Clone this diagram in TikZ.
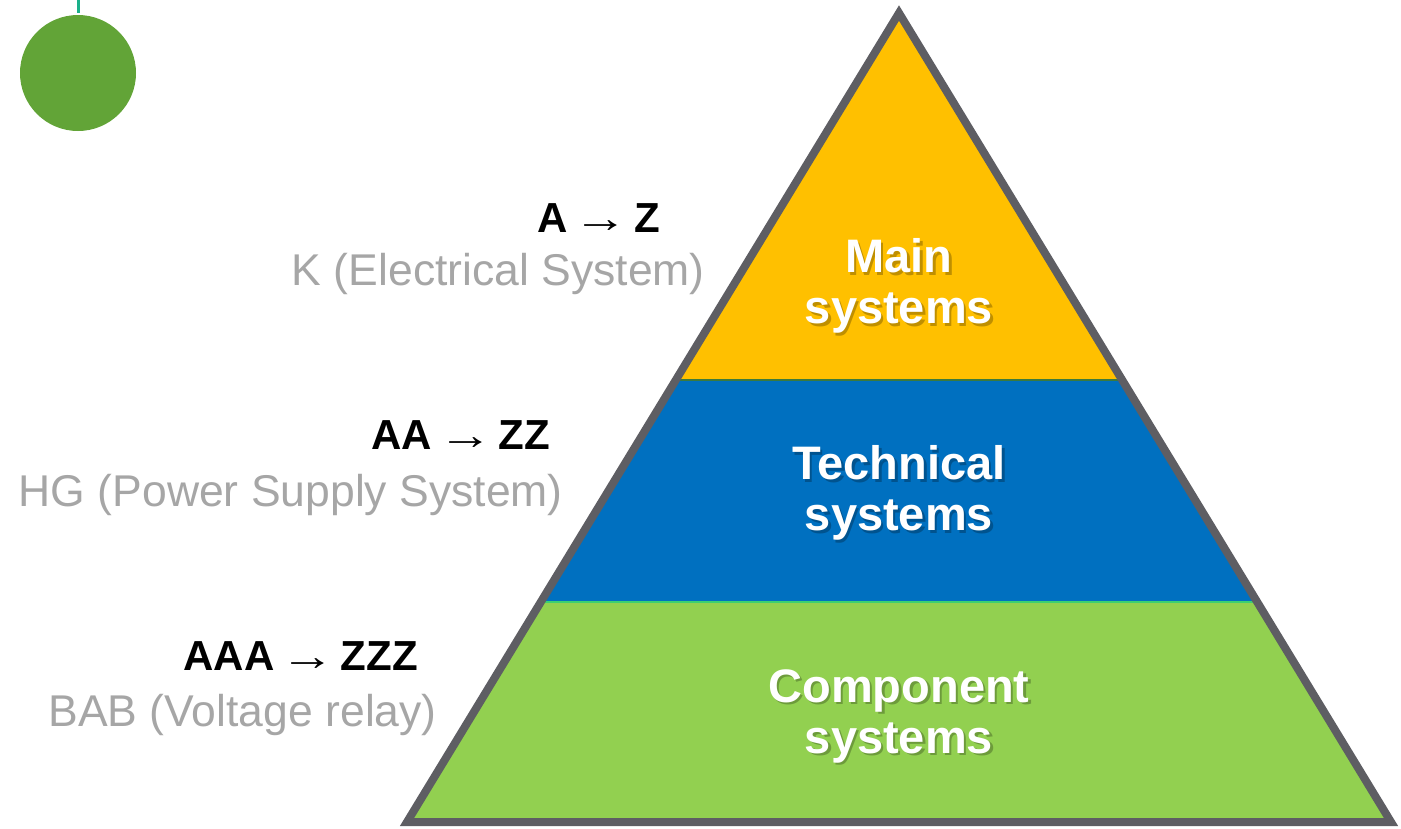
\documentclass[tikz,border=0pt]{standalone}
\usepackage{fontspec}
\setmainfont{Liberation Sans}
\usepackage{xcolor}
\usepackage{graphicx}

\definecolor{mainyellow}{HTML}{FFC000}
\definecolor{techblue}{HTML}{0070C0}
\definecolor{compgreen}{HTML}{92D050}
\definecolor{edgegray}{HTML}{5E5E63}
\definecolor{dotgreen}{HTML}{62A437}
\definecolor{stemteal}{HTML}{1AB08A}
\definecolor{labelgray}{HTML}{A6A6A6}
\definecolor{seamdark}{HTML}{3C7A3C}
\definecolor{seamlight}{HTML}{3CD070}

% thin arrow between the codes
\newcommand{\codearrow}{\kern-0.14em\scalebox{1.3}[1]{\mdseries →}\kern-0.14em}

\tikzset{
	greendot/.style={circle, fill=dotgreen, minimum size=116pt, inner sep=0pt},
	dotstem/.style={draw=stemteal, line width=3pt},
	seam/.style={line width=1.2pt},
	pyramidedge/.style={draw=edgegray, line width=8pt},
	levelname/.style={text=white, align=center, inner sep=0pt,
		font=\fontsize{47}{51}\selectfont\bfseries},
	levelshadow/.style={levelname, text=black, opacity=0.25},
	codelabel/.style={anchor=base east, inner sep=0pt,
		font=\fontsize{42}{48}\selectfont\bfseries},
	desclabel/.style={anchor=base east, inner sep=0pt, text=labelgray,
		font=\fontsize{44.5}{50}\selectfont}
}

\begin{document}
\begin{tikzpicture}[x=1pt,y=-1pt,line join=miter]
	% keep the page as large as the slide
	\useasboundingbox (0,0) rectangle (1401,828);

	% the green dot with its stem
	\node[greendot] (dot) at (78,73) {};
	\coordinate (stemtop) at (78,0);
	\draw[dotstem] (stemtop) -- ([yshift=2pt]dot.north);

	% corners of the pyramid and of its bands
	\coordinate (apex) at (899,13);
	\coordinate (bl) at (407,822);
	\coordinate (br) at (1391,822);
	\coordinate (ul) at (675.8,380);
	\coordinate (ur) at (1122.2,380);
	\coordinate (ll) at (540.8,602);
	\coordinate (lr) at (1257.2,602);

	% fill the three bands
	\fill[mainyellow] (apex) -- (ur) -- (ul) -- cycle;
	\fill[techblue] (ul) -- (ur) -- (lr) -- (ll) -- cycle;
	\fill[compgreen] (ll) -- (lr) -- (br) -- (bl) -- cycle;
	\draw[seam, seamdark] (ul) -- (ur);
	\draw[seam, seamlight] (ll) -- (lr);

	% the outline
	\draw[pyramidedge] (apex) -- (br) -- (bl) -- cycle;

	% names of the levels, with a soft shadow
	\foreach \i/\y/\lvl in {1/286/Main, 2/493/Technical, 3/716/Component} {
		\node[levelshadow] at (901.5,\y+2.5) {\lvl\\systems};
		\node[levelname] (level\i) at (899,\y) {\lvl\\systems};
	}

	% codes and examples left of the pyramid
	\foreach \i/\xc/\yc/\codetext/\xd/\yd/\desctext in {
		1/660/232/A \codearrow\ Z/705/285/K (Electrical System),
		2/550/449/AA \codearrow\ ZZ/563/506/HG (Power Supply System),
		3/418/670/AAA \codearrow\ ZZZ/437/726/BAB (Voltage relay)} {
		\node[codelabel] (code\i) at (\xc,\yc) {\codetext};
		\node[desclabel] (desc\i) at (\xd,\yd) {\desctext};
	}
\end{tikzpicture}
\end{document}
